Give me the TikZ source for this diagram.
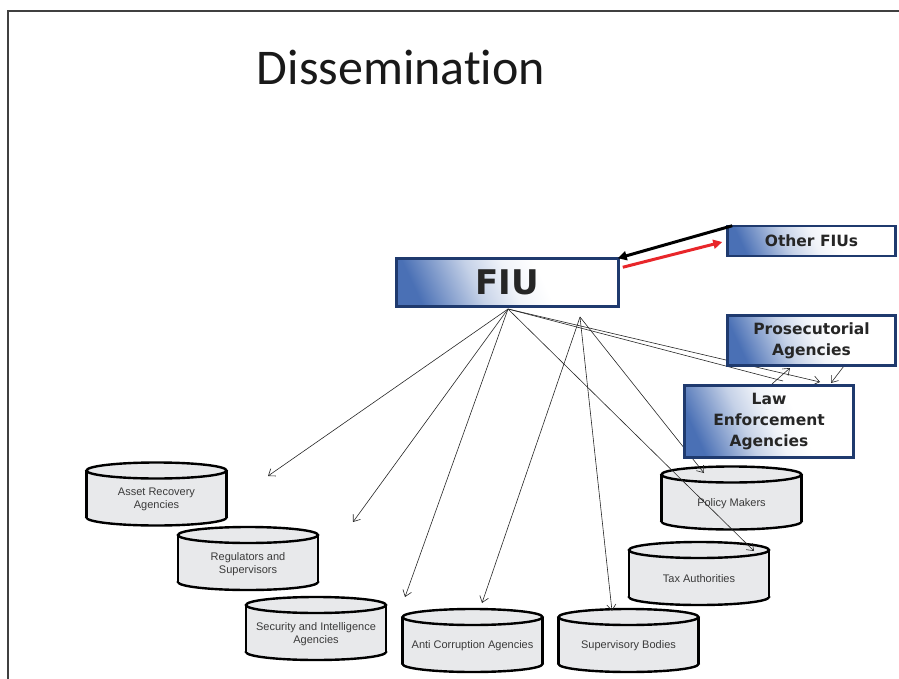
\documentclass[tikz,border=0pt]{standalone}
\usepackage{fontspec}
\setmainfont{Liberation Sans}
\newfontfamily\titlefont[Ligatures={NoCommon}]{Carlito}
\newfontfamily\boxfont{DejaVu Sans}
\usetikzlibrary{arrows.meta,calc}
\definecolor{blu}{HTML}{4A70B5}
\definecolor{navy}{HTML}{1F3A6E}
\definecolor{cylgray}{HTML}{E8E9EB}
\definecolor{txtgray}{HTML}{3A3A3A}
\definecolor{arrred}{HTML}{E8262A}
\definecolor{framegray}{HTML}{404040}
\pgfdeclarehorizontalshading{boxshade}{100bp}{color(0bp)=(blu); color(24bp)=(blu); color(31bp)=(blu!72); color(41bp)=(blu!32); color(51bp)=(blu!8); color(60bp)=(white); color(100bp)=(white)}
\newcommand{\drum}[4]{%
  \fill[cylgray] (#2-70,#3) rectangle (#2+70,#3+47);
  \filldraw[cylline] (#2,#3+47) ellipse [x radius=70pt, y radius=8pt];
  \fill[cylgray] (#2-69,#3) rectangle (#2+69,#3+47);
  \draw[line width=2.4pt] (#2-70,#3) -- (#2-70,#3+47) (#2+70,#3) -- (#2+70,#3+47);
  \filldraw[cylline] (#2,#3) ellipse [x radius=70pt, y radius=8pt];
  \node[cyltext] (#1) at (#2,#3+29) {#4};
}
\begin{document}
\begin{tikzpicture}[x=1pt,y=-1pt,
  agency/.style={draw=navy, line width=2.5pt, shading=boxshade, shading angle=25,
    font=\boxfont\bfseries\fontsize{15.5}{21}\selectfont, text=black!85, align=center, inner sep=0pt},
  cylline/.style={fill=cylgray, draw=black, line width=2.4pt},
  cyltext/.style={font=\fontsize{11}{13}\selectfont, text=txtgray, align=center},
  fan/.style={-{Straight Barb[length=6pt,width=9pt]}, line width=0.6pt, black!85},
  fat/.style={-{Triangle[length=9pt,width=9pt]}, line width=3pt},
]
\useasboundingbox (0,0) rectangle (899,679);
% slide frame
\draw[framegray, line width=1.6pt] (8,679) -- (8,11) -- (899,11);
% title
\node[font=\titlefont\fontsize{50}{60}\selectfont, text=black!90, anchor=base] (title) at (401,85) {Dissemination};
% cylinders
\drum{asset}{156.5}{470.5}{Asset Recovery\\Agencies}
\drum{regul}{248}{535}{Regulators and\\Supervisors}
\drum{secur}{316}{605}{Security and Intelligence\\Agencies}
\drum{anti}{472.5}{617}{Anti Corruption Agencies}
\drum{superv}{628.5}{617}{Supervisory Bodies}
\drum{policy}{731.5}{474.5}{Policy Makers}
\drum{tax}{699}{550}{Tax Authorities}
% fan-out coordinates
\coordinate (A) at (508,309);
\coordinate (B) at (580,317);
\coordinate (eAsset) at (268,476);
\coordinate (eReg) at (353,522);
\coordinate (eSec) at (405,597);
\coordinate (eAnti) at (482,603);
\coordinate (eSup) at (612,611);
\coordinate (ePol) at (704,473);
\coordinate (eTax) at (754,551);
\coordinate (eLaw) at (820,382);
\coordinate (eJoin) at (783,381);
\coordinate (upS) at (772,384);
\coordinate (upE) at (790,368);
\coordinate (dnS) at (847,362);
\coordinate (dnE) at (831,383);
\draw[fan] (A) -- (eAsset);
\draw[fan] (A) -- (eReg);
\draw[fan] (A) -- (eSec);
\draw[fan] (A) -- (eTax);
\draw[fan] (A) -- (eLaw);
\draw[line width=0.6pt, black!85] (A) -- (eJoin);
\draw[fan] (B) -- (eAnti);
\draw[fan] (B) -- (eSup);
\draw[fan] (B) -- (ePol);
\draw[fan] (upS) -- (upE);
\draw[fan] (dnS) -- (dnE);
% boxes
\node[agency, minimum width=222pt, minimum height=48pt, font=\boxfont\bfseries\fontsize{34}{40}\selectfont] (fiu) at (507.5,282.5) {FIU};
\node[agency, minimum width=168pt, minimum height=30pt] (ofiu) at (811.5,241) {Other FIUs};
\node[agency, minimum width=168pt, minimum height=50pt] (pros) at (811.5,340.5) {Prosecutorial\\Agencies};
\node[agency, minimum width=169pt, minimum height=72pt] (law) at (769,421.5) {Law\\Enforcement\\Agencies};
% other FIU exchange
\draw[fat, black] ($(ofiu.north west)+(6,1)$) -- ($(fiu.north east)+(-2,1)$);
\draw[fat, arrred] ($(fiu.north east)+(3,10)$) -- ($(ofiu.west)+(-4,1)$);
\end{tikzpicture}
\end{document}
